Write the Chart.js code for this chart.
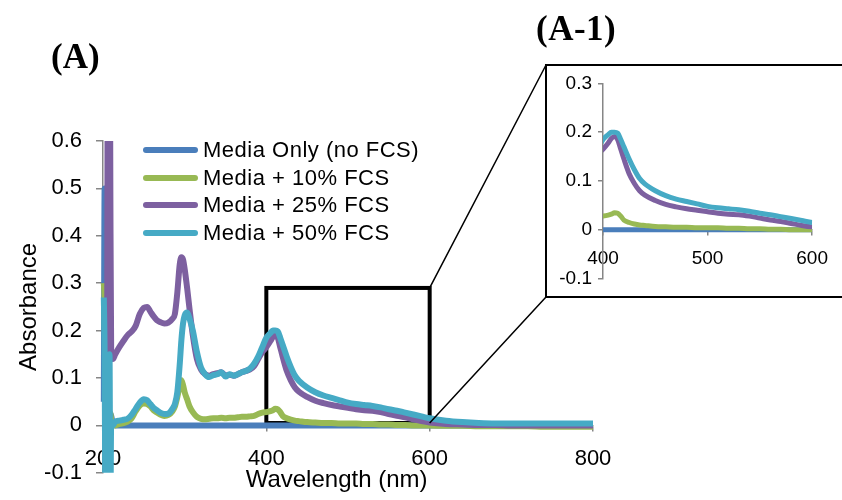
<!DOCTYPE html>
<html>
<head>
<meta charset="utf-8">
<script src="https://cdn.jsdelivr.net/npm/chart.js@4.4.0/dist/chart.umd.min.js"></script>
<style>
  body { margin: 0; background: #fff; }
  #wrap { position: relative; width: 842px; height: 500px; overflow: hidden; background: #fff; }
  #main { position: absolute; left: 0; top: 0; }
  .panel { position: absolute; font: bold 35px "Liberation Serif", "Times New Roman", serif; line-height: 1; color: #000; white-space: nowrap; }
  #labA { left: 51px; top: 39px; }
  #labA1 { left: 536px; top: 11px; letter-spacing: 0.5px; }
  #legend { position: absolute; left: 143px; top: 136px; font: 22px "Liberation Sans", Arial, sans-serif; letter-spacing: 0.5px; color: #000; }
  #legend .row { display: flex; align-items: center; height: 27.7px; white-space: nowrap; }
  #legend .sw { width: 55px; height: 6px; border-radius: 3px; margin-right: 5px; }
  #insetBox { position: absolute; left: 545px; top: 64px; width: 320px; height: 234px; border: 2px solid #000; box-sizing: border-box; background: #fff; }
  #inset { position: absolute; left: 0; top: 0; }
</style>
</head>
<body>
<div id="wrap">
  <canvas id="main" width="842" height="500"></canvas>
  <div class="panel" id="labA">(A)</div>
  <div class="panel" id="labA1">(A-1)</div>
  <div id="legend"></div>
  <div id="insetBox"><canvas id="inset" width="294" height="230"></canvas></div>
</div>
<script>
// wavelength grid (nm) shared by all four spectra
const wavelengths = [
  201, 202, 203, 204, 205, 206, 207, 208, 209, 210,
  212, 215, 220, 225, 230, 235, 240, 245, 250, 254,
  258, 262, 266, 270, 275, 280, 285, 288, 291, 294,
  296, 298, 300, 303, 306, 310, 315, 320, 325, 330,
  335, 340, 345, 350, 355, 360, 365, 370, 375, 380,
  385, 390, 395, 400, 405, 408, 411, 414, 417, 420,
  425, 430, 435, 440, 450, 460, 470, 480, 490, 500,
  510, 520, 530, 540, 550, 560, 570, 580, 590, 600,
  620, 640, 660, 680, 700, 720, 740, 760, 780, 800
];

// absorbance
const mediaOnly = [
  0.05, 0.50, 0.30, 0.06, -0.02, 0.03, 0.00, 0.02, 0.025, 0.02,
  0.005, 0, 0, 0, 0, 0, 0, 0, 0, 0,
  0, 0, 0, 0, 0, 0, 0, 0, 0, 0,
  0, 0, 0, 0, 0, 0, 0, 0, 0, 0,
  0, 0, 0, 0, 0, 0, 0, 0, 0, 0,
  0, 0, 0, 0, 0, 0, 0, 0, 0, 0,
  0, 0, 0, 0, 0, 0, 0, 0, 0, 0,
  0, 0, 0, 0, 0, 0, 0, 0, 0, 0,
  0, 0, 0, 0, 0, 0, 0, 0, 0, 0
];
const fcs10 = [
  0.30, 0.26, 0.10, 0.02, -0.03, 0.02, 0.00, 0.02, 0.025, 0.01,
  0.000, 0.000, 0.003, 0.005, 0.008, 0.015, 0.030, 0.042, 0.046, 0.045,
  0.040, 0.032, 0.027, 0.023, 0.020, 0.022, 0.030, 0.040, 0.060, 0.085,
  0.095, 0.085, 0.070, 0.055, 0.040, 0.028, 0.018, 0.014, 0.013, 0.014,
  0.015, 0.015, 0.016, 0.015, 0.016, 0.016, 0.017, 0.018, 0.018, 0.019,
  0.020, 0.024, 0.027, 0.028, 0.030, 0.032, 0.035, 0.034, 0.028, 0.020,
  0.015, 0.012, 0.010, 0.009, 0.007, 0.006, 0.005, 0.005, 0.004, 0.004,
  0.004, 0.003, 0.003, 0.002, 0.002, 0.001, 0.001, 0.000, 0.000, 0.000,
  -0.001, -0.001, -0.002, -0.002, -0.002, -0.002, -0.003, -0.003, -0.003, -0.003
];
const fcs25 = [
  0.12, 0.12, 0.12, 0.12, 0.15, 1.00, 1.00, 1.00, 0.50, 0.16,
  0.140, 0.150, 0.165, 0.178, 0.190, 0.198, 0.210, 0.235, 0.248, 0.250,
  0.240, 0.230, 0.222, 0.218, 0.215, 0.217, 0.225, 0.235, 0.280, 0.340,
  0.355, 0.350, 0.330, 0.290, 0.245, 0.190, 0.140, 0.118, 0.108, 0.105,
  0.108, 0.110, 0.112, 0.105, 0.107, 0.105, 0.108, 0.112, 0.115, 0.118,
  0.125, 0.140, 0.155, 0.165, 0.178, 0.187, 0.191, 0.185, 0.165, 0.145,
  0.115, 0.095, 0.080, 0.071, 0.060, 0.052, 0.047, 0.043, 0.040, 0.037,
  0.034, 0.032, 0.031, 0.028, 0.024, 0.020, 0.017, 0.013, 0.009, 0.006,
  0.003, 0.002, 0.001, 0.001, 0.000, 0.000, 0.000, 0.000, 0.000, 0.000
];
const fcs50 = [
  0.27, 0.15, -0.20, 0.10, -0.20, 0.05, -0.20, 0.15, -0.20, 0.005,
  0.000, 0.008, 0.010, 0.012, 0.014, 0.022, 0.035, 0.048, 0.055, 0.053,
  0.045, 0.037, 0.032, 0.027, 0.024, 0.025, 0.035, 0.045, 0.070, 0.130,
  0.180, 0.215, 0.232, 0.238, 0.225, 0.200, 0.155, 0.122, 0.108, 0.102,
  0.106, 0.108, 0.112, 0.103, 0.108, 0.105, 0.108, 0.112, 0.115, 0.120,
  0.130, 0.145, 0.165, 0.185, 0.195, 0.200, 0.200, 0.198, 0.185, 0.170,
  0.145, 0.123, 0.105, 0.094, 0.080, 0.070, 0.063, 0.058, 0.053, 0.048,
  0.045, 0.043, 0.041, 0.038, 0.034, 0.031, 0.027, 0.023, 0.019, 0.015,
  0.010, 0.007, 0.005, 0.004, 0.004, 0.004, 0.004, 0.004, 0.004, 0.004
];

const seriesNames = ['Media Only (no FCS)', 'Media + 10% FCS', 'Media + 25% FCS', 'Media + 50% FCS'];
const seriesColors = ['#4A7EBB', '#98B954', '#7D60A0', '#46AAC5'];
const seriesValues = [mediaOnly, fcs10, fcs25, fcs50];

const mainXTicks = [200, 400, 600, 800];
const mainYTicks = [-0.1, 0, 0.1, 0.2, 0.3, 0.4, 0.5, 0.6];
const insetXTicks = [400, 500, 600];
const insetYTicks = [-0.1, 0, 0.1, 0.2, 0.3];

// region of the main plot that is blown up in (A-1)
const zoomX = [400, 600];
const zoomY = [0.005, 0.29];

// inset frame corners on the page, the connector lines end here
const insetFrame = { left: 546, top: 65, bottom: 297 };

Chart.defaults.font.family = '"Liberation Sans", Arial, sans-serif';
Chart.defaults.color = '#000';

const AXIS_GREY = '#868686';
const fmt = v => (v === 0 ? '0' : v.toFixed(1));

function makeDatasets(width, clip) {
  return seriesValues.map((vals, i) => ({
    label: seriesNames[i],
    data: wavelengths.map((w, j) => ({ x: w, y: vals[j] })),
    borderColor: seriesColors[i],
    backgroundColor: seriesColors[i],
    borderWidth: width,
    pointRadius: 0,
    cubicInterpolationMode: 'monotone',
    order: 4 - i,  // 50% FCS ends up on top, like the original
    clip: clip
  }));
}

function axes(o) {
  return {
    x: {
      type: 'linear',
      position: { y: 0 },
      min: o.xMin, max: o.xMax,
      afterBuildTicks: s => { s.ticks = o.xTicks.map(v => ({ value: v })); },
      grid: { drawOnChartArea: false, color: AXIS_GREY, tickLength: 5, lineWidth: 1.5 },
      border: { color: AXIS_GREY, width: 1.5 },
      ticks: { font: { size: o.font }, padding: o.xPad, maxRotation: 0, autoSkip: false }
    },
    y: {
      type: 'linear',
      min: o.yMin, max: o.yMax,
      afterBuildTicks: s => { s.ticks = o.yTicks.map(v => ({ value: v })); },
      afterFit: s => { s.width = o.yWidth; },
      grid: { drawOnChartArea: false, color: AXIS_GREY, tickLength: o.yTick, lineWidth: 1.5 },
      border: { color: AXIS_GREY, width: 1.5 },
      ticks: { font: { size: o.font }, padding: o.yPad, callback: fmt },
      title: o.yTitle || { display: false }
    }
  };
}

// black box around 400-600 nm, the two lines out to the inset, and the x title
const zoomBoxPlugin = {
  id: 'zoomBox',
  beforeDatasetsDraw(chart) {
    const { ctx, scales: { x, y } } = chart;
    const x0 = x.getPixelForValue(zoomX[0]), x1 = x.getPixelForValue(zoomX[1]);
    const y0 = y.getPixelForValue(zoomY[0]), y1 = y.getPixelForValue(zoomY[1]);
    ctx.save();
    ctx.strokeStyle = '#000';
    ctx.lineWidth = 4;
    ctx.strokeRect(x0, y1, x1 - x0, y0 - y1);
    ctx.restore();
  },
  afterDraw(chart) {
    const { ctx, scales: { x, y } } = chart;
    const x1 = x.getPixelForValue(zoomX[1]);
    const y0 = y.getPixelForValue(zoomY[0]), y1 = y.getPixelForValue(zoomY[1]);
    ctx.save();
    ctx.strokeStyle = '#000';
    ctx.lineWidth = 1.5;
    ctx.beginPath();
    ctx.moveTo(x1, y1); ctx.lineTo(insetFrame.left, insetFrame.top);
    ctx.moveTo(x1, y0); ctx.lineTo(insetFrame.left, insetFrame.bottom);
    ctx.stroke();
    // axis title sits a bit left of the plot centre in the original
    ctx.fillStyle = '#000';
    ctx.font = '24px "Liberation Sans", Arial, sans-serif';
    ctx.textAlign = 'center';
    ctx.textBaseline = 'middle';
    ctx.fillText('Wavelength (nm)', x.getPixelForValue(486), 480);
    ctx.restore();
  }
};

new Chart(document.getElementById('main'), {
  type: 'line',
  data: { datasets: makeDatasets(6, { left: 3, right: 3, top: 0, bottom: 0 }) },
  options: {
    responsive: false,
    animation: false,
    events: [],
    layout: { padding: { left: 0, top: 141, right: 249, bottom: 25 } },
    plugins: { legend: { display: false }, tooltip: { enabled: false } },
    scales: axes({
      xMin: 200, xMax: 800, yMin: -0.1, yMax: 0.6,
      xTicks: mainXTicks, yTicks: mainYTicks,
      font: 22, xPad: 15, yPad: 14, yTick: 7, yWidth: 103,
      yTitle: { display: true, text: 'Absorbance', font: { size: 24 }, padding: { top: 15, bottom: 0 } }
    })
  },
  plugins: [zoomBoxPlugin]
});

new Chart(document.getElementById('inset'), {
  type: 'line',
  data: { datasets: makeDatasets(5, { left: 0, right: 0, top: 3, bottom: 3 }) },
  options: {
    responsive: false,
    animation: false,
    events: [],
    layout: { padding: { left: 0, top: 11, right: 28, bottom: 14 } },
    plugins: { legend: { display: false }, tooltip: { enabled: false } },
    scales: axes({
      xMin: 400, xMax: 600, yMin: -0.1, yMax: 0.3,
      xTicks: insetXTicks, yTicks: insetYTicks,
      font: 19, xPad: 13, yPad: 6, yTick: 5, yWidth: 56
    })
  }
});

// legend as plain html rows
const legend = document.getElementById('legend');
seriesNames.forEach((name, i) => {
  const row = document.createElement('div');
  row.className = 'row';
  row.innerHTML = '<span class="sw" style="background:' + seriesColors[i] + '"></span><span>' + name + '</span>';
  legend.appendChild(row);
});
</script>
</body>
</html>
